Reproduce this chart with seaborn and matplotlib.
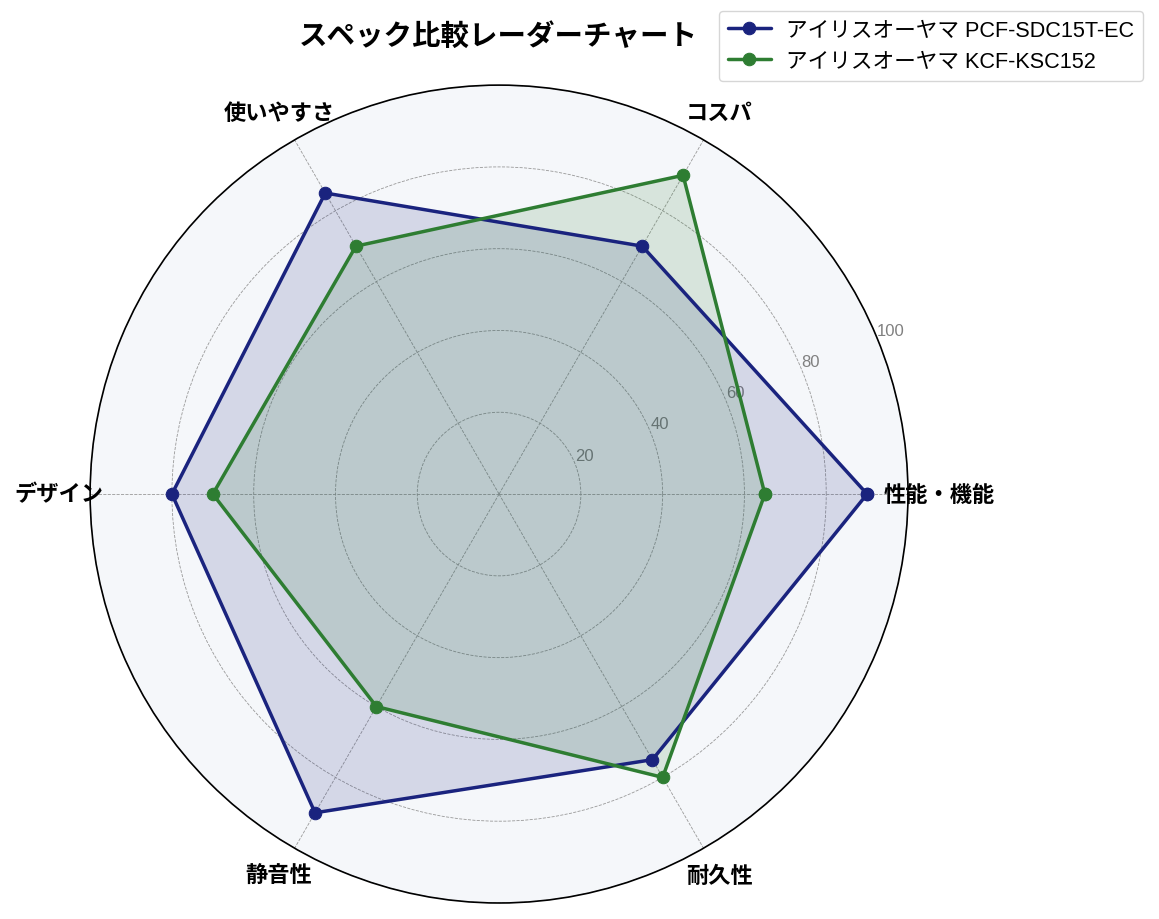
import numpy as np
import pandas as pd
import matplotlib
matplotlib.use("Agg")
import matplotlib.pyplot as plt
import seaborn as sns

categories = ["性能・機能", "コスパ", "使いやすさ", "デザイン", "静音性", "耐久性"]
series_names = ["アイリスオーヤマ PCF-SDC15T-EC", "アイリスオーヤマ KCF-KSC152"]
values_a = [90, 70, 85, 80, 90, 75]
values_b = [65, 90, 70, 70, 60, 80]
r_ticks = [20, 40, 60, 80, 100]
colors = ["#1a237e", "#2e7d32"]

sns.set_style("white")
plt.rcParams["font.family"] = ["Noto Sans CJK JP", "DejaVu Sans"]
plt.rcParams["text.color"] = "black"
plt.rcParams["xtick.color"] = "black"

fig = plt.figure(figsize=(11.59, 9.2), dpi=100)
ax = fig.add_axes([0.0777, 0.0174, 0.7058, 0.889], projection="polar")
ax.set_facecolor("#f5f7fa")

n = len(categories)
angles = np.linspace(0, 2 * np.pi, n, endpoint=False)

for name, vals, col in zip(series_names, [values_a, values_b], colors):
    th = np.append(angles, angles[0])
    rr = np.append(vals, vals[0])
    df = pd.DataFrame({"theta": th, "r": rr})
    sns.lineplot(data=df, x="theta", y="r", sort=False, ax=ax, color=col,
                 linewidth=2.5, marker="o", markersize=9, markeredgecolor=col,
                 label=name, estimator=None)
    ax.fill(th, rr, color=col, alpha=0.15)

ax.set_ylim(0, 100)
ax.set_yticks(r_ticks)
ax.set_yticklabels([str(t) for t in r_ticks], color="#808080", fontsize=12,
                   family=["Liberation Sans", "DejaVu Sans"])
ax.set_rlabel_position(22.5)
ax.set_xticks(angles)
ax.set_xticklabels(categories, fontsize=16, fontweight="bold", color="black")
ax.tick_params(axis="x", pad=12)
ax.set_xlabel("")
ax.set_ylabel("")
ax.grid(True, color="#999999", linestyle="--", linewidth=0.6)
ax.spines["polar"].set_color("black")
ax.spines["polar"].set_linewidth(1.2)

ax.legend(loc="upper right", bbox_to_anchor=(0.9865, 0.987), bbox_transform=fig.transFigure,
          borderaxespad=0,
          prop={"family": ["Liberation Sans", "Noto Sans CJK JP"], "size": 15.6},
          frameon=True, edgecolor="#cccccc", fancybox=True, labelspacing=0.45,
          borderpad=0.42, handletextpad=0.7)

fig.text(0.43, 0.960, "スペック比較レーダーチャート", fontsize=20.5, fontweight="bold",
         ha="center", va="center", color="black")

fig.savefig("out.png", dpi=100)
